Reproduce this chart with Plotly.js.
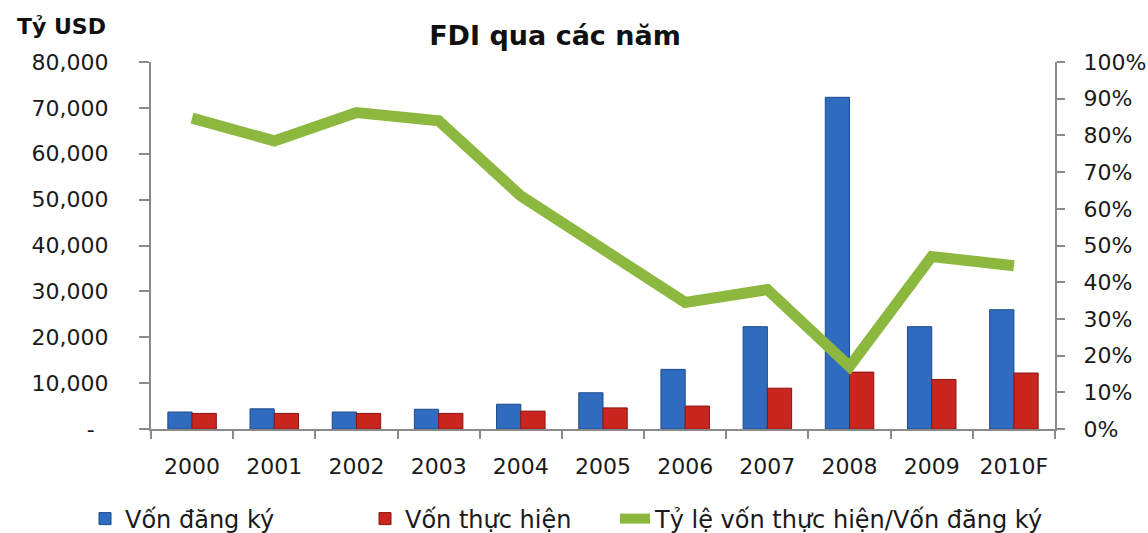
<!DOCTYPE html>
<html>
<head>
<meta charset="utf-8">
<script src="https://cdn.plot.ly/plotly-3.0.1.min.js"></script>
<style>html,body{margin:0;padding:0;background:#fff;}#chart{width:1148px;height:533px;}</style>
</head>
<body>
<div id="chart"></div>
<script>
const years = ["2000","2001","2002","2003","2004","2005","2006","2007","2008","2009","2010F"];
const registered = [3700, 4400, 3700, 4300, 5400, 7900, 13000, 22300, 72300, 22300, 26000];
const disbursed = [3400, 3400, 3400, 3400, 3900, 4600, 5000, 8900, 12400, 10800, 12200];
const ratio = [0.847, 0.785, 0.862, 0.84, 0.635, 0.49, 0.345, 0.38, 0.17, 0.47, 0.445];
const seriesNames = ["Vốn đăng ký", "Vốn thực hiện", "Tỷ lệ vốn thực hiện/Vốn đăng ký"];
const leftTickVals = [0, 10000, 20000, 30000, 40000, 50000, 60000, 70000, 80000];
const leftTickText = ["-", "10,000", "20,000", "30,000", "40,000", "50,000", "60,000", "70,000", "80,000"];
const rightTickVals = [0, 0.1, 0.2, 0.3, 0.4, 0.5, 0.6, 0.7, 0.8, 0.9, 1.0];
const rightTickText = ["0%", "10%", "20%", "30%", "40%", "50%", "60%", "70%", "80%", "90%", "100%"];
const chartTitle = "FDI qua các năm";
const unitLabel = "Tỷ USD";

const FONT = "DejaVu Sans, Arial, sans-serif";
// accounting style: the dash sits a little left of the number column
const leftTickShown = leftTickText.map(t => t === "-" ? t + "\u2007\u200b" : t);

const traces = [
  {type: "bar", x: years, y: registered, name: seriesNames[0], legend: "legend",
   marker: {color: "#2f6cc0", line: {color: "#1d4a8a", width: 1}}},
  {type: "bar", x: years, y: disbursed, name: seriesNames[1], legend: "legend2",
   marker: {color: "#c8261f", line: {color: "#8a1512", width: 1}}},
  {type: "scatter", mode: "lines", x: years, y: ratio, yaxis: "y2", name: seriesNames[2], legend: "legend3",
   line: {color: "#8cb83f", width: 11}}
];
const axisLine = "#8a8a8a";
const legendBase = (xPix) => ({orientation: "h", x: xPix/1148, xref: "container", xanchor: "left",
  y: 1 - 519/533, yref: "container", yanchor: "middle",
  font: {family: FONT, size: 24, color: "#1a1a1a"}, bgcolor: "rgba(0,0,0,0)"});
const layout = {
  width: 1148, height: 533,
  margin: {l: 151, r: 93, t: 62, b: 104, pad: 0},
  paper_bgcolor: "#ffffff", plot_bgcolor: "#ffffff",
  font: {family: FONT, size: 22, color: "#1a1a1a"},
  title: {text: "<b>" + chartTitle + "</b>", x: 555/1148, xref: "container", xanchor: "center",
          y: 1 - 36/533, yref: "container", yanchor: "middle",
          font: {family: FONT, size: 27, color: "#111"}},
  barmode: "group", bargap: 0.41, bargroupgap: 0,
  showlegend: true,
  legend: legendBase(85),
  legend2: legendBase(365),
  legend3: legendBase(615),
  xaxis: {type: "category", showline: true, linecolor: axisLine, linewidth: 2,
          ticks: "outside", tickson: "boundaries", ticklen: 8, tickcolor: axisLine, tickwidth: 2,
          showgrid: false, zeroline: false, ticklabelstandoff: 17,
          tickfont: {family: FONT, size: 22, color: "#1a1a1a"}},
  yaxis: {range: [0, 80000], tickvals: leftTickVals, ticktext: leftTickShown,
          showline: true, linecolor: axisLine, linewidth: 2,
          ticks: "outside", ticklen: 10, tickcolor: axisLine, tickwidth: 2,
          showgrid: false, zeroline: false, ticklabelstandoff: 26,
          tickfont: {family: FONT, size: 22, color: "#1a1a1a"}},
  yaxis2: {range: [0, 1], overlaying: "y", side: "right", tickvals: rightTickVals, ticktext: rightTickText,
           showline: true, linecolor: axisLine, linewidth: 2,
           ticks: "outside", ticklen: 8, tickcolor: axisLine, tickwidth: 2,
           showgrid: false, zeroline: false, ticklabelstandoff: 14,
           tickfont: {family: FONT, size: 22, color: "#1a1a1a"}},
  annotations: [{text: "<b>" + unitLabel + "</b>", xref: "paper", yref: "paper",
                 x: (15-151)/904, xanchor: "left", y: (429-26)/367, yanchor: "middle",
                 showarrow: false, font: {family: FONT, size: 22, color: "#111"}}]
};
Plotly.newPlot("chart", traces, layout, {staticPlot: true, displayModeBar: false});
</script>
</body>
</html>
